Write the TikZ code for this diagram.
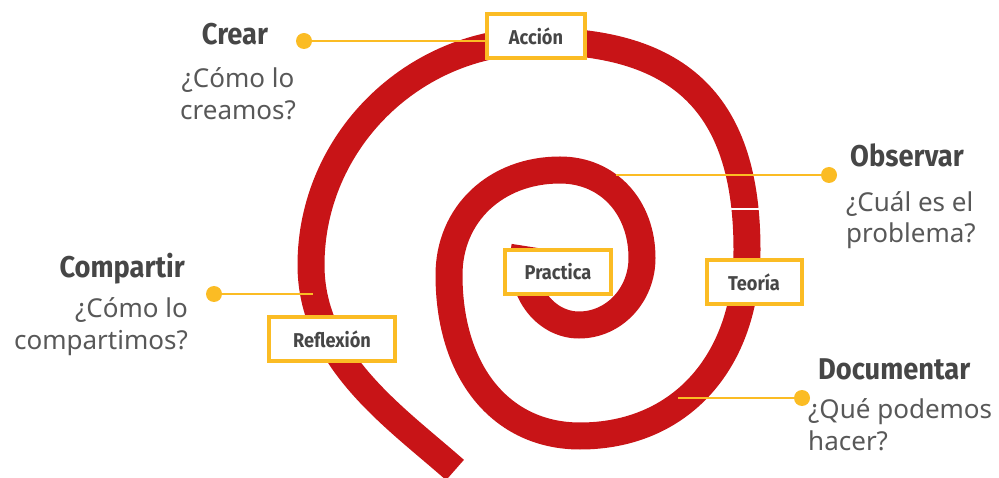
\documentclass[tikz,border=0pt]{standalone}
\usepackage{fontspec}
\setmainfont{Noto Sans}
\newfontfamily\condfont{Fira Sans}[FakeStretch=0.91]
\usetikzlibrary{positioning}
\definecolor{spiralred}{RGB}{200,20,23}
\definecolor{markyellow}{RGB}{251,188,36}
\definecolor{headgray}{RGB}{70,70,70}
\definecolor{askgray}{RGB}{88,88,88}

\begin{document}
\begin{tikzpicture}[x=1pt, y=-1pt]

    \tikzset{% styles for the spiral diagram
        heading/.style={inner sep=0pt, text=headgray, font=\condfont\bfseries\fontsize{30}{32}\selectfont},
        question/.style={inner sep=0pt, text=askgray, font=\fontsize{26}{32}\selectfont},
        stage/.style={draw=markyellow, line width=4pt, fill=white, inner sep=0pt,
                      minimum width=#1, minimum height=44pt, text=headgray,
                      font=\condfont\bfseries\fontsize{20}{22}\selectfont},
        dot/.style={circle, fill=markyellow, minimum size=16pt, inner sep=0pt},
        link/.style={draw=markyellow, line width=1.8pt}}

    \useasboundingbox (0,0) rectangle (999,478);

    % the spiral, quarter by quarter
    \draw [spiralred, line width=27pt]
        (525,246) .. controls (517,290) and (545,325) .. (579,325)
                  .. controls (614,325) and (642,295) .. (642,258)
                  .. controls (642,207) and (608,170) .. (560,170)
                  .. controls (496,170) and (449,214) .. (449,275)
                  .. controls (449,372) and (501,436) .. (580,436)
                  .. controls (680,436) and (747,362) .. (747,250)
                  .. controls (747,106) and (682,41) .. (537,41)
                  .. controls (413,41) and (311,142) .. (311,265)
                  .. controls (311,360) and (395,417) .. (455,470);
    \draw [white, line width=2.5pt] (724,209) -- (763,209);

    \coordinate (obs_end) at (616,175);
    \coordinate (doc_end) at (678,398);
    \coordinate (comp_end) at (313,294);

    % stage boxes
    \node [stage=98pt] (accion) at (536,36) {Acción};
    \node [stage=106pt] (practica) at (558,272) {Practica};
    \node [stage=95pt] (teoria) at (754,282) {Teoría};
    \node [stage=126pt] (reflexion) at (332,339) {Reflexión};

    % markers
    \node [dot] (crear_dot) at (304,41) {};
    \node [dot] (obs_dot) at (829,175) {};
    \node [dot] (comp_dot) at (214,294) {};
    \node [dot] (doc_dot) at (802,398) {};

    \draw [link] (crear_dot) -- (crear_dot -| accion.west);
    \draw [link] (obs_dot) -- (obs_end);
    \draw [link] (comp_dot) -- (comp_end);
    \draw [link] (doc_dot) -- (doc_end);

    % texts
    \node [heading, anchor=base] (crear) at (235,45) {Crear};
    \node [question, anchor=base] (crear_q1) at (238,88) {¿Cómo lo};
    \node [question, anchor=base] (crear_q2) at (238,120) {creamos?};

    \node [heading, anchor=base east] (compartir) at (185,278) {Compartir};
    \node [question, anchor=base east] (comp_q1) at (188,318) {¿Cómo lo};
    \node [question, anchor=base east] (comp_q2) at (188,350) {compartimos?};

    \node [heading, anchor=base west] (observar) at (850,167) {Observar};
    \node [question, anchor=base west] (obs_q1) at (846,212) {¿Cuál es el};
    \node [question, anchor=base west] (obs_q2) at (846,243) {problema?};

    \node [heading, anchor=base west] (documentar) at (818,380) {Documentar};
    \node [question, anchor=base west] (doc_q1) at (808,418) {¿Qué podemos};
    \node [question, anchor=base west] (doc_q2) at (808,450) {hacer?};

\end{tikzpicture}
\end{document}
